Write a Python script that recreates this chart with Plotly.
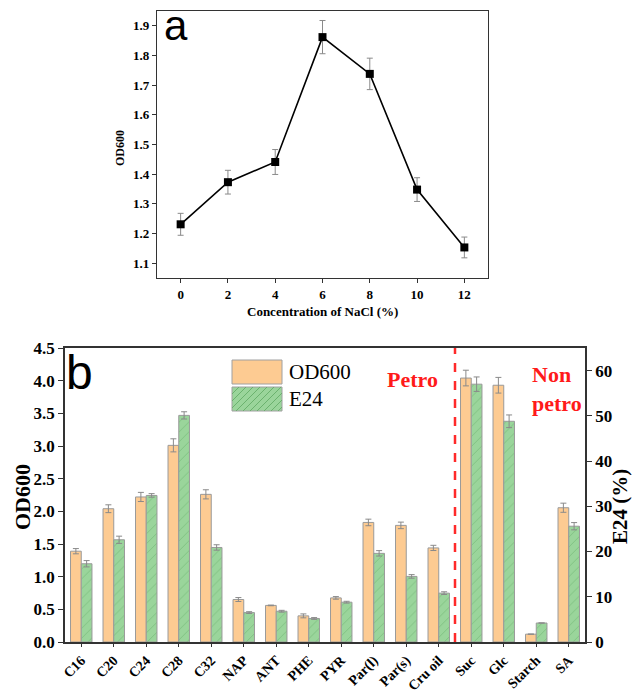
import plotly.graph_objects as go

# ---- Panel a data ----
nacl = [0, 2, 4, 6, 8, 10, 12]
od_nacl = [1.231, 1.373, 1.441, 1.862, 1.738, 1.348, 1.153]
od_nacl_err = [0.037, 0.040, 0.042, 0.056, 0.053, 0.040, 0.035]

# ---- Panel b data ----
substrates = ["C16", "C20", "C24", "C28", "C32", "NAP", "ANT", "PHE", "PYR",
              "Par(l)", "Par(s)", "Cru oil", "Suc", "Glc", "Starch", "SA"]
od600 = [1.39, 2.04, 2.22, 3.01, 2.26, 0.65, 0.56, 0.40, 0.675, 1.83, 1.785, 1.44, 4.04, 3.93, 0.12, 2.055]
od600_err = [0.04, 0.06, 0.07, 0.10, 0.07, 0.03, 0.005, 0.03, 0.02, 0.05, 0.05, 0.04, 0.12, 0.12, 0.0, 0.07]
e24 = [17.3, 22.6, 32.4, 50.1, 20.9, 6.5, 6.8, 5.2, 8.8, 19.6, 14.5, 10.8, 57.0, 48.8, 4.2, 25.6]
e24_err = [0.7, 0.8, 0.4, 0.8, 0.6, 0.2, 0.2, 0.2, 0.2, 0.6, 0.4, 0.3, 1.6, 1.4, 0.0, 0.8]

W, H = 633, 694
def px(x):
    return x / W
def py(y):
    return 1 - y / H

SERIF = "Liberation Serif, Times New Roman, serif"
SANS = "Liberation Sans, Arial, sans-serif"
AX = "#333333"
ORANGE = "#FDCB92"
GREEN = "#9AD59B"
HATCH = "#5FA862"
ERR = "#8a8a8a"

fig = go.Figure()

# Panel a
fig.add_trace(go.Scatter(
    x=nacl, y=od_nacl, mode="lines+markers", xaxis="x", yaxis="y",
    line=dict(color="black", width=1.6),
    marker=dict(symbol="square", size=8, color="black"),
    error_y=dict(type="data", array=od_nacl_err, color=ERR, thickness=1, width=3),
    showlegend=False))

# Panel b
fig.add_trace(go.Bar(
    x=substrates, y=od600, xaxis="x2", yaxis="y2", name="OD600",
    marker=dict(color=ORANGE, line=dict(color="#9a9a9a", width=1)),
    offset=-0.33, width=0.33,
    error_y=dict(type="data", array=od600_err, color=ERR, thickness=1, width=3),
    showlegend=False))
fig.add_trace(go.Bar(
    x=substrates, y=e24, xaxis="x2", yaxis="y3", name="E24",
    marker=dict(color=GREEN, line=dict(color="#9a9a9a", width=1),
                pattern=dict(shape="/", bgcolor=GREEN, fgcolor=HATCH, size=7, solidity=0.12)),
    offset=0.0, width=0.33,
    error_y=dict(type="data", array=e24_err, color=ERR, thickness=1, width=3),
    showlegend=False))

tickfont_a = dict(family=SERIF, size=13, color="black", weight="bold")
tickfont_b = dict(family=SERIF, size=17, color="black", weight="bold")

fig.update_layout(
    width=W, height=H, margin=dict(l=0, r=0, t=0, b=0, pad=0, autoexpand=False),
    paper_bgcolor="white", plot_bgcolor="white",
    barmode="overlay",
    xaxis=dict(domain=[px(157), px(488)], range=[-1, 13], tickvals=nacl, automargin=False,
               showline=True, linecolor=AX, linewidth=1.2, mirror=True,
               ticks="outside", ticklen=4, tickcolor=AX, showgrid=False, zeroline=False,
               tickfont=tickfont_a),
    yaxis=dict(domain=[py(278), py(11)], range=[1.05, 1.95], dtick=0.1, automargin=False,
               tickformat=".1f",
               showline=True, linecolor=AX, linewidth=1.2, mirror=True,
               ticks="outside", ticklen=4, tickcolor=AX, showgrid=False, zeroline=False,
               tickfont=tickfont_a),
    xaxis2=dict(domain=[px(65), px(585)], range=[-0.5, 15.5], anchor="y2", automargin=False,
                showline=True, linecolor=AX, linewidth=1.5, mirror=True,
                ticks="outside", ticklen=3, tickcolor=AX, showgrid=False, zeroline=False,
                tickangle=-45, tickfont=dict(family=SERIF, size=14, color="black", weight="bold")),
    yaxis2=dict(domain=[py(642), py(348)], range=[0, 4.5], dtick=0.5, tickformat=".1f",
                anchor="x2", automargin=False, showline=True, linecolor=AX, linewidth=1.5,
                ticks="outside", ticklen=5, tickcolor=AX, showgrid=False, zeroline=False,
                tickfont=tickfont_b),
    yaxis3=dict(range=[0, 65], dtick=10, overlaying="y2", side="right", anchor="x2",
                automargin=False, showline=True, linecolor=AX, linewidth=1.5,
                ticks="outside", ticklen=5, tickcolor=AX, showgrid=False, zeroline=False,
                tickfont=tickfont_b),
)

# dashed separator between petro and non-petro substrates
fig.add_shape(type="line", xref="x2", yref="y2", x0=11.5, x1=11.5, y0=0, y1=4.5,
              line=dict(color="#FF2A2A", width=2.5, dash="dash"))

ann = []
# panel a texts
ann.append(dict(text="a", x=px(176), y=py(26), xanchor="center", yanchor="middle",
                font=dict(family=SANS, size=42, color="black")))
ann.append(dict(text="OD600", x=px(120), y=py(148), textangle=-90,
                font=dict(family=SERIF, size=12, color="black", weight="bold")))
ann.append(dict(text="Concentration of NaCl (%)", x=px(322), y=py(311),
                font=dict(family=SERIF, size=13, color="black", weight="bold")))
# panel b texts
ann.append(dict(text="b", x=px(79), y=py(372),
                font=dict(family=SANS, size=48, color="black")))
ann.append(dict(text="OD600", x=px(22), y=py(497), textangle=-90,
                font=dict(family=SERIF, size=22, color="black", weight="bold")))
ann.append(dict(text="E24 (%)", x=px(620), y=py(507), textangle=-90,
                font=dict(family=SERIF, size=21, color="black", weight="bold")))
ann.append(dict(text="Petro", x=px(412), y=py(379),
                font=dict(family=SERIF, size=22, color="#FF1A1A", weight="bold")))
ann.append(dict(text="Non<br>petro", x=px(530), y=py(389), xanchor="left", align="left",
                font=dict(family=SERIF, size=22, color="#FF1A1A", weight="bold")))
# legend texts
ann.append(dict(text="OD600", x=px(287), y=py(372), xanchor="left",
                font=dict(family=SERIF, size=21, color="black")))
ann.append(dict(text="E24", x=px(287), y=py(399), xanchor="left",
                font=dict(family=SERIF, size=21, color="black")))
for a in ann:
    a.setdefault("xanchor", "center")
    a.setdefault("yanchor", "middle")
    a.update(xref="paper", yref="paper", showarrow=False)
    fig.add_annotation(**a)

# legend swatches
fig.add_shape(type="rect", xref="paper", yref="paper",
              x0=px(232), x1=px(282), y0=py(384), y1=py(360),
              fillcolor=ORANGE, line=dict(color="#a0a0a0", width=1))
fig.add_shape(type="rect", xref="paper", yref="paper",
              x0=px(232), x1=px(282), y0=py(411), y1=py(387),
              fillcolor=GREEN, line=dict(color="#a0a0a0", width=1))
# hatch lines inside green swatch
segs = []
x0s, x1s, ytop, ybot = 232, 282, 387, 411
step = 7
h = ybot - ytop
k = x0s - h
while k < x1s:
    xa, ya = k, ybot
    xb, yb = k + h, ytop
    if xa < x0s:
        ya = ybot - (x0s - xa); xa = x0s
    if xb > x1s:
        yb = ytop + (xb - x1s); xb = x1s
    if xb > xa:
        segs.append(f"M{px(xa)},{py(ya)} L{px(xb)},{py(yb)}")
    k += step
fig.add_shape(type="path", xref="paper", yref="paper", path=" ".join(segs),
              line=dict(color=HATCH, width=0.8))

fig.write_html("out.html")
